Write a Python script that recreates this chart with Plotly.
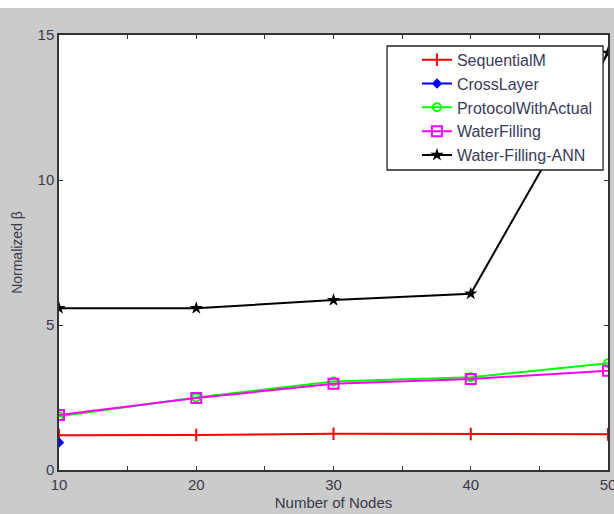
import plotly.graph_objects as go

nodes = [10, 20, 30, 40, 50]
sequential = [1.20, 1.21, 1.25, 1.24, 1.23]
crosslayer_x = [10]
crosslayer = [0.95]
protocol = [1.85, 2.50, 3.05, 3.20, 3.68]
waterfilling = [1.90, 2.48, 2.97, 3.14, 3.42]
wf_ann = [5.58, 5.58, 5.86, 6.08, 14.38]

x_tickvals = [10, 15, 20, 25, 30, 35, 40, 45, 50]
x_ticktext = ["10", "", "20", "", "30", "", "40", "", "50"]
y_tickvals = [0, 5, 10, 15]

FONT = "Liberation Sans, Arial"
TXT = "#3a3a4a"

fig = go.Figure()
fig.add_trace(go.Scatter(x=nodes, y=sequential, name="SequentialM",
                         mode="lines+markers", line=dict(color="#ff0000", width=2),
                         marker=dict(symbol="line-ns", size=9, line=dict(color="#ff0000", width=2))))
fig.add_trace(go.Scatter(x=crosslayer_x, y=crosslayer, name="CrossLayer",
                         mode="lines+markers", line=dict(color="#0000ff", width=2),
                         marker=dict(symbol="diamond", size=8, color="#0000ff")))
fig.add_trace(go.Scatter(x=nodes, y=protocol, name="ProtocolWithActual",
                         mode="lines+markers", line=dict(color="#00ff00", width=2),
                         marker=dict(symbol="circle-open", size=8, line=dict(color="#00ff00", width=2))))
fig.add_trace(go.Scatter(x=nodes, y=waterfilling, name="WaterFilling",
                         mode="lines+markers", line=dict(color="#ff00ff", width=2),
                         marker=dict(symbol="square-open", size=10, line=dict(color="#ff00ff", width=2))))
fig.add_trace(go.Scatter(x=nodes, y=wf_ann, name="Water-Filling-ANN",
                         mode="lines+markers", line=dict(color="#000000", width=2),
                         marker=dict(symbol="star", size=10, color="#000000")))

axis_common = dict(showline=True, linecolor="#333333", linewidth=1.5, mirror="ticks",
                   ticks="inside", ticklen=4, tickcolor="#333333", showgrid=False,
                   zeroline=False, automargin=False,
                   tickfont=dict(family=FONT, size=15, color=TXT))

fig.update_xaxes(range=[10, 50], tickvals=x_tickvals, ticktext=x_ticktext,
                 ticklabeloverflow="allow",
                 title=dict(text="Number of Nodes", standoff=6,
                            font=dict(family=FONT, size=15, color=TXT)),
                 **axis_common)
fig.update_yaxes(range=[0, 15], tickvals=y_tickvals,
                 title=dict(text="Normalized β", standoff=12,
                            font=dict(family=FONT, size=14, color=TXT)),
                 **axis_common)

# white strip at the very top of the figure
fig.add_shape(type="rect", xref="paper", yref="paper", x0=-0.2, x1=1.1, y0=1.062, y1=1.09,
              fillcolor="white", line=dict(width=0), layer="below")
# legend box
fig.add_shape(type="rect", xref="paper", yref="paper", x0=0.5975, x1=0.991, y0=0.6897, y1=0.9747,
              fillcolor="white", line=dict(color="#222222", width=1.3), layer="above")

fig.update_layout(
    width=614, height=514,
    margin=dict(l=59, r=6, t=35, b=44),
    paper_bgcolor="#cbcbcb", plot_bgcolor="white",
    font=dict(family=FONT, size=13, color=TXT),
    legend=dict(x=0.652, y=0.982, xanchor="left", yanchor="top",
                bgcolor="rgba(0,0,0,0)", borderwidth=0,
                font=dict(family=FONT, size=16, color="#3a3a5a"),
                tracegroupgap=0, traceorder="normal"),
    showlegend=True,
)

fig.write_html("out.html")
